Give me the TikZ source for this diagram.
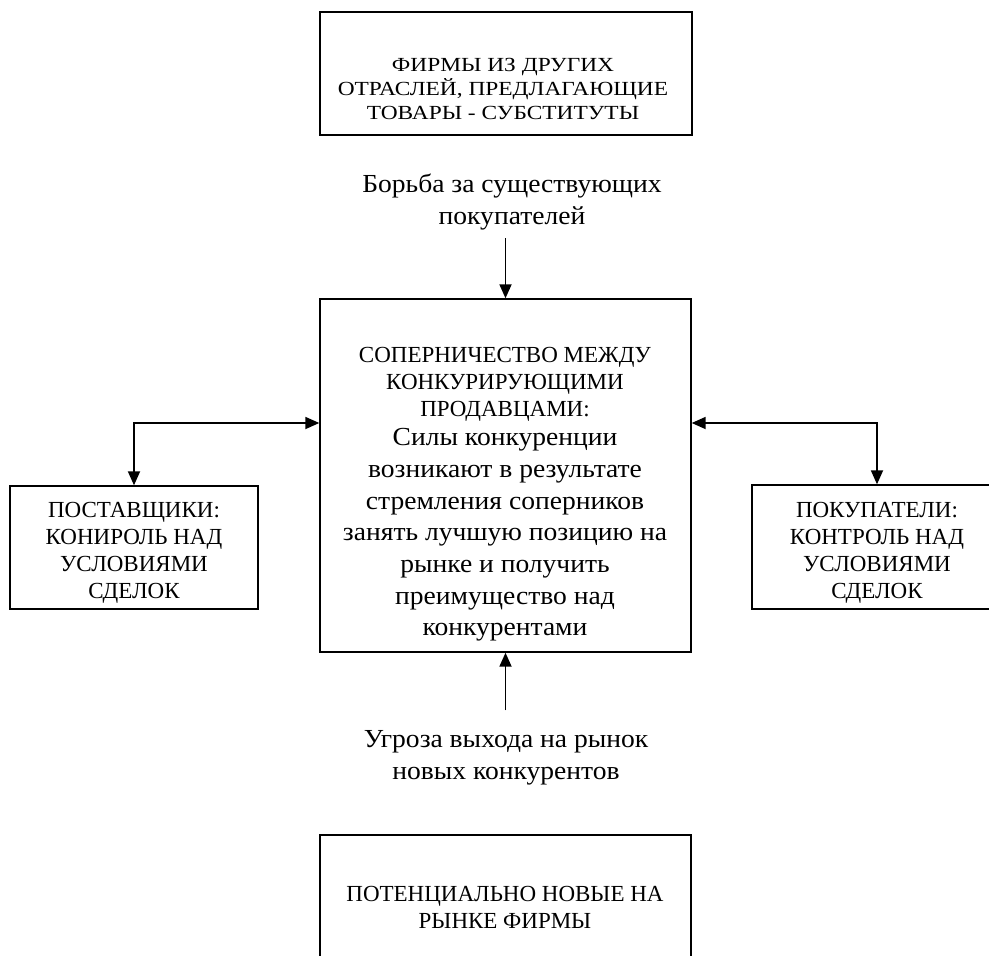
\documentclass[tikz,border=0pt]{standalone}
\usepackage{fontspec}
\setmainfont{Liberation Serif}
\newfontfamily\widefont[FakeStretch=1.17]{Liberation Serif}
\newfontfamily\lblfont[FakeStretch=1.06]{Liberation Serif}
\usetikzlibrary{arrows.meta}

\begin{document}
\begin{tikzpicture}[x=1pt, y=-1pt,
  box/.style = {draw, line width=1.4pt, inner sep=0pt},
  captxt/.style = {align=center, font=\widefont\fontsize{20}{24}\selectfont},
  head/.style = {align=center, font=\fontsize{23}{27}\selectfont},
  lbl/.style = {align=center, font=\lblfont\fontsize{26}{31.7}\selectfont},
  arr/.style = {line width=1.8pt, -{Triangle[length=14pt,width=12pt]}},
  both/.style = {line width=1.8pt, {Triangle[length=14pt,width=12pt]}-{Triangle[length=14pt,width=12pt]}}]
\useasboundingbox (0,0) rectangle (989,956);
\clip (0,0) rectangle (989,956);
\node[box, minimum width=372pt, minimum height=123pt] (subst) at (506,73.5) {};
\node[captxt] (substtxt) at (503,89) {ФИРМЫ ИЗ ДРУГИХ\\ОТРАСЛЕЙ, ПРЕДЛАГАЮЩИЕ\\ТОВАРЫ - СУБСТИТУТЫ};
\node[lbl] (fight) at (512,202) {Борьба за существующих\\покупателей};
\node[box, minimum width=371pt, minimum height=353pt] (compete) at (505.5,475.5) {};
\node[head] (competehead) at (505,384) {СОПЕРНИЧЕСТВО МЕЖДУ\\КОНКУРИРУЮЩИМИ\\ПРОДАВЦАМИ:};
\node[lbl] (competebody) at (505,535) {Силы конкуренции\\возникают в результате\\стремления соперников\\занять лучшую позицию на\\рынке и получить\\преимущество над\\конкурентами};
\node[box, minimum width=248pt, minimum height=123pt] (supp) at (134,547.5) {};
\node[head] (supptxt) at (134,553) {ПОСТАВЩИКИ:\\КОНИРОЛЬ НАД\\УСЛОВИЯМИ\\СДЕЛОК};
\node[box, minimum width=250pt, minimum height=124pt] (buyer) at (877,547) {};
\node[head] (buyertxt) at (877,553) {ПОКУПАТЕЛИ:\\КОНТРОЛЬ НАД\\УСЛОВИЯМИ\\СДЕЛОК};
\node[lbl] (threat) at (506,758) {Угроза выхода на рынок\\новых конкурентов};
\node[box, minimum width=371pt, minimum height=124pt] (newfirms) at (505.5,897) {};
\node[head] (newtxt) at (505,907) {ПОТЕНЦИАЛЬНО НОВЫЕ НА\\РЫНКЕ ФИРМЫ};
\coordinate (lbend) at (134,423);
\coordinate (rbend) at (877,423);
\draw[arr, shorten <=5pt] (compete.north |- fight.south) -- (compete.north);
\draw[arr, shorten <=17pt] (compete.south |- threat.north) -- (compete.south);
\draw[both] (compete.west |- lbend) -- (lbend) -- (supp.north);
\draw[both] (compete.east |- rbend) -- (rbend) -- (buyer.north);
\end{tikzpicture}
\end{document}
